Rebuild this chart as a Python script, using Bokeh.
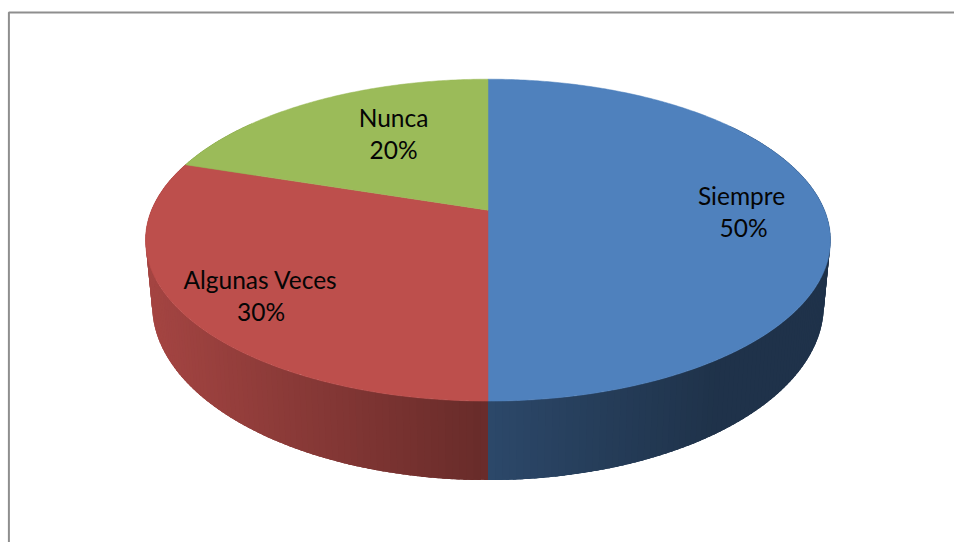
from math import sin, cos, radians
from bokeh.plotting import figure
from bokeh.models import Range1d
from bokeh.core.properties import value
from bokeh.embed import file_html
from bokeh.resources import INLINE

categories = ["Siempre", "Algunas Veces", "Nunca"]
percentages = [50, 30, 20]
colors = ["#4f81bd", "#bd4f4c", "#9bbb59"]

# layout of the labels, in page pixels (name line, percent line)
label_x = [741, 260, 393]
label_name_y = [195, 278.5, 117]
label_pct_y = [227, 310.5, 149]
label_pct_x = [743, 260.5, 393]

# perspective disc: centre x, centre y, half-width, half-depth, perspective
TOP = (487.5, 209.7, 336.5, 155.4, -0.186)
BOT = (487.5, 272.0, 330.0, 169.0, -0.186)


def project(theta, disc):
    cx, cy, a, b, k = disc
    u, v = sin(radians(theta)), -cos(radians(theta))
    w = 1 + k * v
    return cx + a * u / w, cy + b * v / w


def to_hex(base, f):
    rgb = [int(base[i:i + 2], 16) for i in (1, 3, 5)]
    return "#%02x%02x%02x" % tuple(int(round(c * f)) for c in rgb)


def shade(x):
    if x < TOP[0]:
        return 0.55 + 0.32 * min(1.0, (TOP[0] - x) / 338)
    return 0.56 - 0.17 * min(1.0, (x - TOP[0]) / 230)


p = figure(width=954, height=542, output_backend="svg", toolbar_location=None,
           x_range=Range1d(0, 954), y_range=Range1d(542, 0), min_border=0,
           background_fill_color="white", border_fill_color="white")
p.axis.visible = False
p.grid.visible = False
p.outline_line_color = None

# frame of the chart area
p.line([8.4, 8.4, 954], [542, 12, 12], line_color="#8e8e8e", line_width=2)

# slice angles, clockwise from the top
starts, ends = [], []
acc = 0.0
total = sum(percentages)
for v_ in percentages:
    starts.append(acc / total * 360)
    acc += v_
    ends.append(acc / total * 360)

# side wall, as overlapping strips shaded across the width
STEP = 1.0
for s, e, col in zip(starts, ends, colors):
    th = s
    xs_all, ys_all, fills = [], [], []
    while th < e - 1e-9:
        t2 = min(th + STEP, e)
        t3 = min(th + 2.5 * STEP, e + 0.5)
        if cos(radians(th)) < 0.6 or cos(radians(t2)) < 0.6:
            x1, y1 = project(th, TOP)
            x2, y2 = project(t3, TOP)
            x3, y3 = project(t3, BOT)
            x4, y4 = project(th, BOT)
            xs_all.append([x1, x2, x3, x4])
            ys_all.append([y1, y2, y3, y4])
            fills.append(to_hex(col, shade((x1 + x4) / 2)))
        th = t2
    if xs_all:
        p.patches(xs_all, ys_all, fill_color=fills, line_color=None)

# top surface
for s, e, col in zip(starts, ends, colors):
    n = max(2, int((e - s) * 2))
    pts = [project(s + (e - s) * i / n, TOP) for i in range(n + 1)]
    xs = [TOP[0]] + [q[0] for q in pts]
    ys = [TOP[1]] + [q[1] for q in pts]
    p.patch(xs, ys, fill_color=col, line_color=col, line_width=0.5)

# labels
font = value("Lato")
p.text(label_x, label_name_y, text=categories, text_font=font, text_font_size="24.5px",
       text_color="#050505", text_align="center", text_baseline="middle")
p.text(label_pct_x, label_pct_y, text=[f"{v_}%" for v_ in percentages], text_font=font,
       text_font_size="24.5px", text_color="#050505", text_align="center", text_baseline="middle")

open("out.html", "w").write(file_html(p, INLINE))
